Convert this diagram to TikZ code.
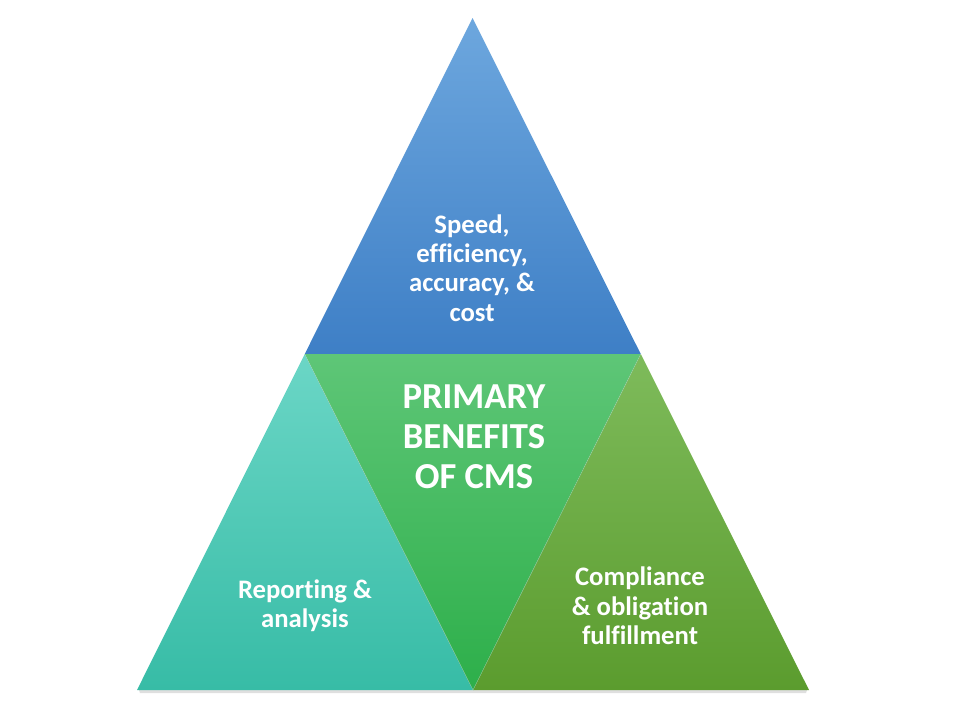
\documentclass[tikz,border=0pt]{standalone}
\usepackage{fontspec}
\setmainfont[Ligatures={NoCommon,NoContextual}]{Carlito}
\usetikzlibrary{positioning}
\definecolor{topA}{HTML}{6DA7DE}
\definecolor{topB}{HTML}{3E7FC6}
\definecolor{midA}{HTML}{5EC677}
\definecolor{midB}{HTML}{2DAF4A}
\definecolor{leftA}{HTML}{6BD6C6}
\definecolor{leftB}{HTML}{37BCA6}
\definecolor{rightA}{HTML}{7EBB5B}
\definecolor{rightB}{HTML}{5B9C2E}
\tikzset{
  lbl/.style={text=white, font=\bfseries\fontsize{26.7}{29.3}\selectfont, align=center},
  biglbl/.style={text=white, font=\bfseries\fontsize{36.6}{40}\selectfont, align=center}
}
\begin{document}
\begin{tikzpicture}[x=1pt,y=-1pt]
\useasboundingbox (0,0) rectangle (960,720);
% corners
\coordinate (A) at (472.5,18);
\coordinate (L) at (137,690);
\coordinate (R) at (809,690);
\coordinate (ML) at (304.75,354);
\coordinate (MR) at (640.75,354);
\coordinate (MB) at (473,690);
% shadow
\fill[black!25, opacity=0.5] (139,690) -- (807,690) -- (806,693) -- (140,693) -- cycle;
% triangles
\shade[top color=topA, bottom color=topB] (A) -- (MR) -- (ML) -- cycle;
\shade[top color=leftA, bottom color=leftB] (ML) -- (MB) -- (L) -- cycle;
\shade[top color=rightA, bottom color=rightB] (MR) -- (R) -- (MB) -- cycle;
\shade[top color=midA, bottom color=midB] (ML) -- (MR) -- (MB) -- cycle;
\draw[black!20, line width=0.4pt, opacity=0.5] (ML) -- (MB) -- (MR);
% labels
\node[lbl] (t1) at (472,268) {Speed,\\efficiency,\\accuracy, \&\\cost};
\node[biglbl] (t2) at (474,437) {PRIMARY\\BENEFITS\\OF CMS};
\node[lbl] (t3) at (305,606) {Reporting \&\\analysis};
\node[lbl] (t4) at (640,606) {Compliance\\\& obligation\\fulfillment};
\end{tikzpicture}
\end{document}
